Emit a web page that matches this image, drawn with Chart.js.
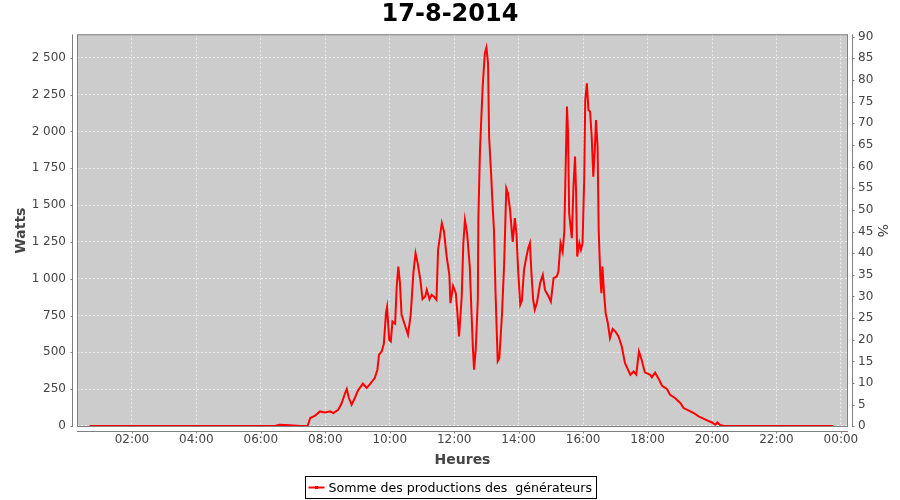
<!DOCTYPE html>
<html lang="fr">
<head>
<meta charset="UTF-8">
<title>17-8-2014</title>
<script src="https://cdn.jsdelivr.net/npm/chart.js"></script>
<style>
body { margin: 0; background: #fff; }
#wrap { width: 900px; height: 500px; }
</style>
</head>
<body>
<div id="wrap"><canvas id="prod"></canvas></div>
<script>
// readings of the day (time of day, watts)
const times = ['00:41','04:06','06:26','06:35','06:54','07:13','07:27','07:32','07:41','07:50','07:59',
  '08:09','08:15','08:24','08:30','08:37','08:40','08:44','08:49','08:55','09:01','09:10','09:17','09:24',
  '09:32','09:37','09:40','09:45','09:49','09:53','09:55','09:59','10:02','10:05','10:10','10:13','10:16',
  '10:19','10:22','10:28','10:34','10:39','10:44','10:48','10:52','10:57','11:01','11:06','11:09','11:14',
  '11:18','11:22','11:27','11:30','11:37','11:41','11:46','11:51','11:53','11:58','12:03','12:06','12:09',
  '12:14','12:17','12:20','12:24','12:29','12:32','12:35','12:37','12:40','12:44','12:45','12:48','12:53',
  '12:57','13:00','13:03','13:05','13:09','13:11','13:14','13:17','13:21','13:24','13:29','13:33','13:37',
  '13:40','13:44','13:47','13:49','13:53','13:56','13:59','14:03','14:06','14:10','14:14','14:18','14:21',
  '14:24','14:27','14:30','14:34','14:40','14:45','14:49','14:55','15:00','15:05','15:11','15:14','15:18',
  '15:22','15:25','15:27','15:30','15:32','15:34','15:39','15:42','15:45','15:47','15:49','15:53','15:56',
  '15:59','16:02','16:04','16:07','16:10','16:13','16:16','16:19','16:22','16:24','16:27','16:29','16:32',
  '16:34','16:36','16:39','16:42','16:46','16:50','16:55','17:00','17:06','17:12','17:18','17:28','17:34',
  '17:39','17:44','17:49','17:55','18:05','18:08','18:14','18:20','18:27','18:36','18:42','18:51','19:01',
  '19:07','19:16','19:26','19:35','19:44','19:52','20:00','20:06','20:10','20:15','20:21','20:34','23:46'];
const watts = [0,0,0,8,5,0,0,54,70,99,92,
  99,88,110,151,224,251,190,144,190,242,287,258,287,
  325,382,484,506,558,766,807,585,574,709,694,947,1082,
  970,755,687,619,755,1038,1173,1106,992,861,879,924,861,
  890,879,857,1196,1377,1320,1150,1026,834,951,902,766,608,
  879,1241,1399,1309,1082,789,517,382,517,857,1411,1875,2303,
  2530,2570,2462,1964,1693,1535,1331,900,440,460,760,1100,1614,
  1582,1467,1331,1250,1412,1300,1060,823,850,1060,1140,1210,1241,
  1026,857,790,837,970,1026,924,884,845,1004,1015,1049,1241,
  1184,1320,1671,2168,1987,1445,1275,1625,1829,1581,1150,1241,1196,
  1241,1671,2213,2326,2145,2134,1964,1693,1896,2077,1896,1331,1015,
  902,1082,902,766,699,597,660,642,608,540,427,348,370,
  350,506,450,364,348,330,362,325,273,251,212,190,156,
  122,106,88,65,50,36,24,9,24,7,2,0,0];

const xTickHours = [2, 4, 6, 8, 10, 12, 14, 16, 18, 20, 22, 24];
const xTickLabels = ['02:00','04:00','06:00','08:00','10:00','12:00','14:00','16:00','18:00','20:00','22:00','00:00'];
const wattTicks = [0, 250, 500, 750, 1000, 1250, 1500, 1750, 2000, 2250, 2500];
const pctTicks = [0, 5, 10, 15, 20, 25, 30, 35, 40, 45, 50, 55, 60, 65, 70, 75, 80, 85, 90];

const seriesName = 'Somme des productions des  générateurs';

function toHours(t) {
    const [h, m] = t.split(':').map(Number);
    return h + m / 60;
}
function frNumber(v) {
    return String(v).replace(/\B(?=(\d{3})+(?!\d))/g, ' ');
}

const FONT = 'DejaVu Sans';
const GREY = '#444444';

// gray plot, outline, offset axis lines, boxed legend
const plotFrame = {
    id: 'plotFrame',
    beforeDraw(chart) {
        const { ctx, chartArea: a } = chart;
        ctx.save();
        ctx.fillStyle = '#cccccc';
        ctx.fillRect(a.left, a.top, a.right - a.left, a.bottom - a.top);
        ctx.restore();
    },
    afterDraw(chart) {
        const { ctx, chartArea: a, scales } = chart;
        ctx.save();
        ctx.lineWidth = 1;
        ctx.strokeStyle = '#808080';
        ctx.strokeRect(a.left + 0.5, a.top + 0.5, a.right - a.left - 1, a.bottom - a.top - 1);

        const lx = a.left - 4.5, rx = a.right + 4.5, by = a.bottom + 4.5;
        ctx.beginPath();
        ctx.moveTo(lx, a.top); ctx.lineTo(lx, a.bottom);
        ctx.moveTo(rx, a.top); ctx.lineTo(rx, a.bottom);
        ctx.moveTo(a.left, by); ctx.lineTo(a.right, by);
        wattTicks.forEach(v => {
            const y = Math.round(scales.y.getPixelForValue(v)) + 0.5;
            ctx.moveTo(lx, y); ctx.lineTo(lx - 2, y);
        });
        pctTicks.forEach(v => {
            const y = Math.round(scales.pct.getPixelForValue(v)) + 0.5;
            ctx.moveTo(rx, y); ctx.lineTo(rx + 2, y);
        });
        xTickHours.forEach(v => {
            const x = Math.round(scales.x.getPixelForValue(v)) + 0.5;
            ctx.moveTo(x, by); ctx.lineTo(x, by + 2);
        });
        ctx.stroke();

        // legend
        ctx.font = '12.6px "' + FONT + '"';
        const tw = ctx.measureText(seriesName).width;
        const bw = Math.round(3 + 16 + 4 + tw + 4);
        const bx = Math.round(chart.width / 2 - bw / 2) + 0.5;
        const bt = 476.5, bh = 22;
        ctx.strokeStyle = '#000';
        ctx.strokeRect(bx, bt, bw, bh);
        const cy = bt + bh / 2;
        ctx.strokeStyle = '#ff0000';
        ctx.lineWidth = 2;
        ctx.beginPath();
        ctx.moveTo(bx + 3, cy); ctx.lineTo(bx + 19, cy);
        ctx.stroke();
        ctx.fillStyle = '#ff0000';
        ctx.fillRect(bx + 9.5, cy - 1.5, 3, 3);
        ctx.fillStyle = '#000';
        ctx.textBaseline = 'middle';
        ctx.fillText(seriesName, bx + 23, cy + 1);
        ctx.restore();
    }
};

const ctx = document.getElementById('prod').getContext('2d');
new Chart(ctx, {
    type: 'line',
    data: {
        datasets: [{
            label: seriesName,
            data: times.map((t, i) => ({ x: toHours(t), y: watts[i] })),
            borderColor: '#ff0000',
            borderWidth: 2,
            pointRadius: 0,
            tension: 0,
            fill: false,
            yAxisID: 'y'
        }]
    },
    options: {
        responsive: true,
        maintainAspectRatio: false,
        animation: false,
        devicePixelRatio: 1,
        layout: { padding: { left: 0, right: 0, top: 0, bottom: 24 } },
        plugins: {
            legend: { display: false },
            tooltip: { enabled: false },
            title: {
                display: true,
                text: '17-8-2014',
                color: '#000',
                font: { family: FONT, size: 24, weight: 'bold' },
                padding: { top: 0, bottom: 5.5 }
            }
        },
        scales: {
            x: {
                type: 'linear',
                min: 0.295,
                max: 24.22,
                afterBuildTicks: s => { s.ticks = xTickHours.map(v => ({ value: v })); },
                afterFit: s => { s.height = 49; },
                grid: { color: '#ececec', drawTicks: false },
                border: { display: false, dash: [2, 2] },
                ticks: {
                    padding: 6,
                    color: GREY,
                    maxRotation: 0,
                    autoSkip: false,
                    font: { family: FONT, size: 12 },
                    callback: v => xTickLabels[xTickHours.indexOf(v)]
                },
                title: {
                    display: true,
                    text: 'Heures',
                    color: GREY,
                    font: { family: FONT, size: 14, weight: 'bold' },
                    padding: { top: 0, bottom: 7.6 }
                }
            },
            y: {
                position: 'left',
                min: -6.8,
                max: 2659,
                afterBuildTicks: s => { s.ticks = wattTicks.map(v => ({ value: v })); },
                afterFit: s => { s.width = 77; },
                grid: { color: '#ececec', drawTicks: false },
                border: { display: false, dash: [2, 2] },
                ticks: {
                    padding: 11,
                    color: GREY,
                    font: { family: FONT, size: 12 },
                    callback: v => frNumber(v)
                },
                title: {
                    display: true,
                    text: 'Watts',
                    color: GREY,
                    font: { family: FONT, size: 14, weight: 'bold' },
                    padding: { top: 13, bottom: 0 }
                }
            },
            pct: {
                position: 'right',
                min: -0.15,
                max: 90.55,
                afterBuildTicks: s => { s.ticks = pctTicks.map(v => ({ value: v })); },
                afterFit: s => { s.width = 52; },
                grid: { display: false, drawTicks: false },
                border: { display: false },
                ticks: {
                    padding: 10,
                    color: GREY,
                    font: { family: FONT, size: 12 }
                },
                title: {
                    display: true,
                    text: '%',
                    color: GREY,
                    font: { family: FONT, size: 14 },
                    padding: { top: 9.6, bottom: 0 }
                }
            }
        }
    },
    plugins: [plotFrame]
});
</script>
</body>
</html>
